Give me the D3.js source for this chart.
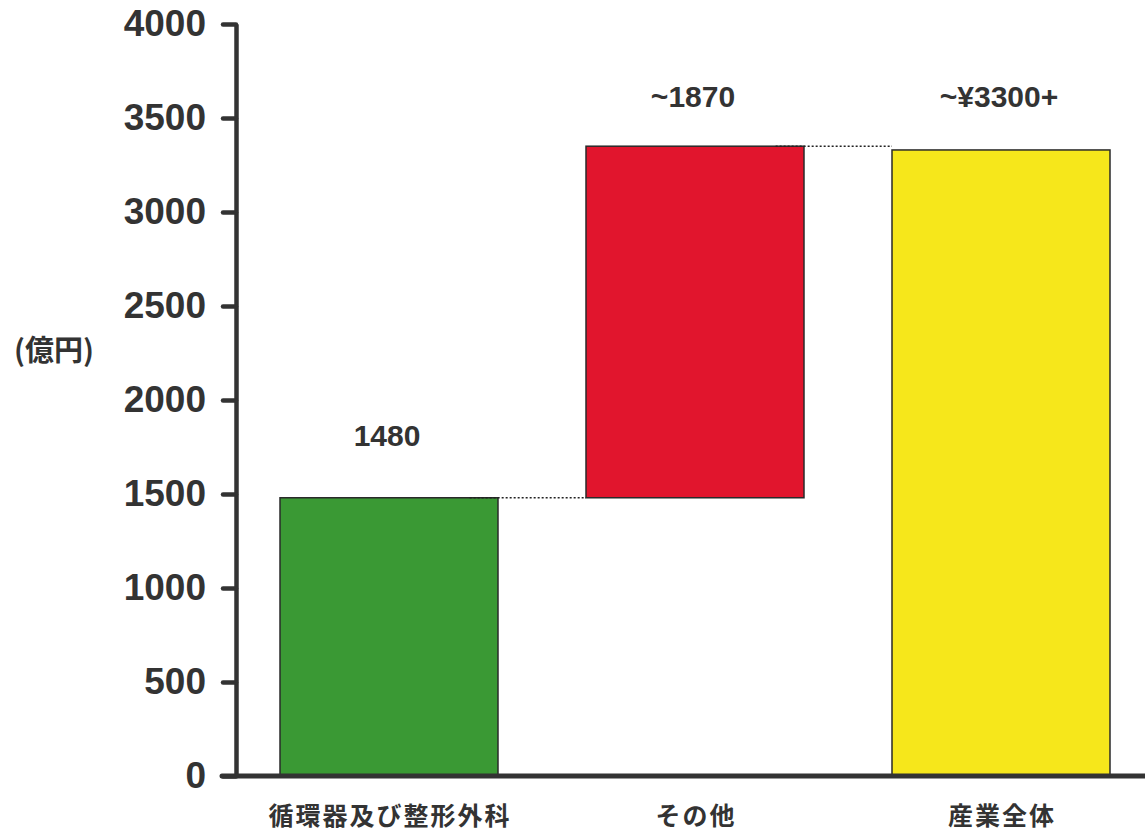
<!DOCTYPE html>
<html>
<head>
<meta charset="utf-8">
<script src="https://cdn.jsdelivr.net/npm/d3@7"></script>
<style>
  body { margin: 0; background: #fff; }
  svg { display: block; }
</style>
</head>
<body>
<div id="chart"></div>
<script>
// waterfall: segment + other = industry total
let width = 1145;
let height = 831;

let categories = ["循環器及び整形外科", "その他", "産業全体"];
let barStart = [0, 1480, 0];      // where each bar begins (億円)
let barEnd = [1480, 3350, 3330];  // where each bar ends (億円)
let valueLabels = ["1480", "~1870", "~¥3300+"];
let barColors = ["#3a9934", "#e1152d", "#f6e71b"];
let yTicks = [0, 500, 1000, 1500, 2000, 2500, 3000, 3500, 4000];

let ink = "#333";

let svg = d3.select("#chart")
    .append("svg")
    .attr("width", width)
    .attr("height", height);

let x = d3.scaleBand()
    .domain(categories)
    .range([236, 1154])
    .paddingInner(0.2876)
    .paddingOuter(0.1438);

let y = d3.scaleLinear()
    .domain([0, 4000])
    .range([776, 24]);

// y axis
let yAxis = svg.append("g")
    .attr("transform", "translate(236,0)")
    .call(d3.axisLeft(y)
        .tickValues(yTicks)
        .tickFormat(d3.format("d"))
        .tickSize(13)
        .tickSizeOuter(0)
        .tickPadding(17));

yAxis.select(".domain").style("stroke", ink).style("stroke-width", "4.5px");
yAxis.selectAll(".tick line").style("stroke", ink).style("stroke-width", "4.5px").style("stroke-linecap", "round");
yAxis.selectAll(".tick text")
    .attr("fill", ink)
    .style("font-family", "'Liberation Sans', Arial, sans-serif")
    .style("font-weight", "bold")
    .style("font-size", "37px");

// bars
svg.selectAll(".bar")
    .data(categories)
    .enter()
    .append("rect")
    .attr("class", "bar")
    .attr("x", function (d) { return x(d); })
    .attr("width", x.bandwidth())
    .attr("y", function (d, i) { return y(barEnd[i]); })
    .attr("height", function (d, i) { return y(barStart[i]) - y(barEnd[i]); })
    .attr("fill", function (d, i) { return barColors[i]; })
    .attr("stroke", "#2a2a2a")
    .attr("stroke-width", 1.5);

// dotted connectors between bar tops
for (let i = 0; i < categories.length - 1; i++) {
    svg.append("line")
        .attr("x1", x(categories[i]) + x.bandwidth() * 0.87)
        .attr("x2", x(categories[i + 1]))
        .attr("y1", y(barEnd[i]))
        .attr("y2", y(barEnd[i]))
        .attr("stroke", "#222")
        .attr("stroke-width", 1.5)
        .attr("stroke-dasharray", "2,2");
}

// x axis baseline
svg.append("line")
    .attr("x1", 222)
    .attr("x2", width)
    .attr("y1", y(0))
    .attr("y2", y(0))
    .attr("stroke", ink)
    .attr("stroke-width", 5)
    .attr("stroke-linecap", "round");

// value labels above bars
svg.selectAll(".val")
    .data(categories)
    .enter()
    .append("text")
    .attr("class", "val")
    .attr("x", function (d) { return x(d) + x.bandwidth() / 2 - 2; })
    .attr("y", function (d, i) { return i == 0 ? 446 : 107; })
    .attr("text-anchor", "middle")
    .attr("fill", ink)
    .style("font-family", "'Liberation Sans', Arial, sans-serif")
    .style("font-weight", "bold")
    .style("font-size", "30px")
    .text(function (d, i) { return valueLabels[i]; });

// category labels
svg.selectAll(".cat")
    .data(categories)
    .enter()
    .append("text")
    .attr("class", "cat")
    .attr("x", function (d) { return x(d) + x.bandwidth() / 2 + 1; })
    .attr("y", 825)
    .attr("text-anchor", "middle")
    .attr("fill", ink)
    .style("font-family", "'Noto Sans CJK JP', sans-serif")
    .style("font-weight", "bold")
    .style("font-size", "25px")
    .style("letter-spacing", "2px")
    .text(function (d) { return d; });

// unit label
svg.append("text")
    .attr("x", 14)
    .attr("y", 361)
    .attr("fill", ink)
    .style("font-family", "'Noto Sans CJK JP', sans-serif")
    .style("font-weight", "bold")
    .style("font-size", "29px")
    .text("(億円)");
</script>
</body>
</html>
